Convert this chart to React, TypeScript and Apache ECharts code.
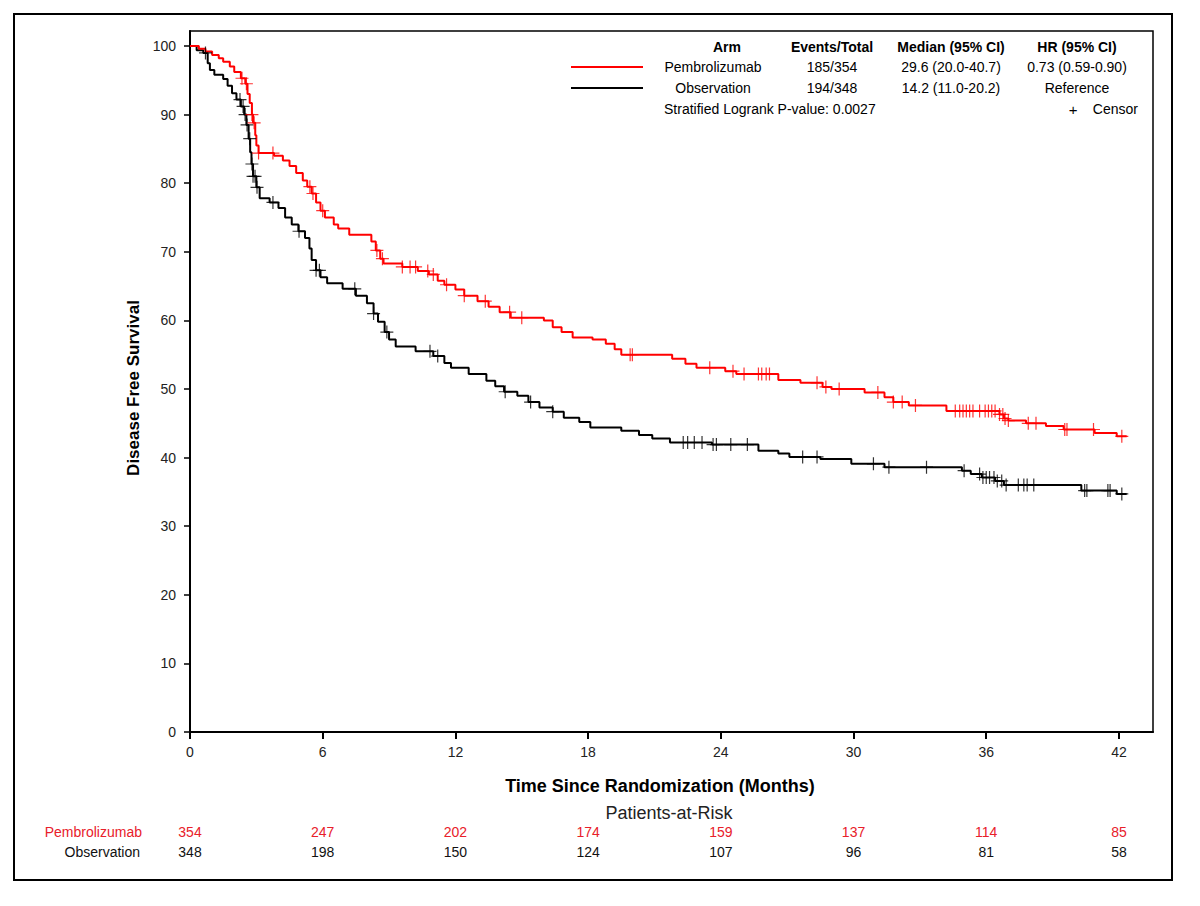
import React, { useEffect, useRef } from "react";
import * as echarts from "echarts";

// Kaplan-Meier steps: [month, disease free survival %]
const pembroCurve: number[][] = [
  [0, 100], [0.4, 99.6], [0.7, 99.2], [1.0, 98.7], [1.3, 98.2], [1.5, 97.7], [1.8, 97.0],
  [2.0, 96.2], [2.3, 95.3], [2.5, 94.5], [2.6, 93.0], [2.7, 91.7], [2.8, 90.0], [2.85, 88.8],
  [2.95, 87.0], [3.0, 85.5], [3.1, 84.4], [3.8, 84.0], [4.2, 83.3], [4.5, 82.5], [4.8, 81.5],
  [5.1, 80.4], [5.3, 79.5], [5.5, 78.5], [5.7, 77.2], [5.9, 76.0], [6.1, 75.0], [6.5, 74.0],
  [6.7, 73.4], [7.2, 72.5], [8.2, 71.5], [8.4, 70.2], [8.6, 69.0], [8.75, 68.3], [9.6, 67.8],
  [10.3, 67.2], [10.8, 66.7], [11.2, 65.8], [11.5, 65.2], [12.0, 64.5], [12.4, 63.6],
  [13.0, 62.8], [13.5, 62.0], [14.0, 61.2], [14.5, 60.4], [16.0, 60.0], [16.4, 59.0],
  [16.8, 58.3], [17.3, 57.5], [18.2, 57.2], [18.8, 56.6], [19.2, 55.8], [19.5, 55.0],
  [21.8, 54.4], [22.4, 53.7], [22.9, 53.1], [24.2, 52.6], [24.7, 52.2], [26.6, 51.3],
  [27.6, 50.9], [28.6, 50.3], [29.0, 50.0], [30.5, 49.5], [31.4, 48.8], [31.8, 48.1],
  [32.5, 47.6], [34.2, 46.8], [36.6, 46.3], [36.8, 45.7], [37.0, 45.4], [37.8, 45.0],
  [38.7, 44.6], [39.5, 44.1], [40.9, 43.6], [41.9, 43.1], [42.35, 43.1],
];

const obsCurve: number[][] = [
  [0, 100], [0.3, 99.4], [0.6, 99.0], [0.8, 97.5], [0.9, 96.5], [1.1, 95.8], [1.5, 95.2],
  [1.7, 94.2], [1.9, 93.1], [2.1, 92.2], [2.3, 91.2], [2.45, 90.0], [2.55, 88.5], [2.65, 86.5],
  [2.72, 84.5], [2.78, 82.8], [2.85, 81.0], [3.0, 79.4], [3.15, 77.8], [3.6, 77.2], [4.0, 76.4],
  [4.3, 75.0], [4.6, 74.0], [4.9, 73.0], [5.2, 72.0], [5.4, 70.5], [5.5, 68.8], [5.7, 67.3],
  [5.9, 66.3], [6.2, 65.4], [6.9, 64.6], [7.5, 63.6], [8.0, 62.5], [8.3, 61.0], [8.5, 59.8],
  [8.8, 58.3], [9.0, 57.2], [9.3, 56.2], [10.2, 55.5], [11.0, 54.8], [11.5, 53.8], [11.8, 53.1],
  [12.6, 52.2], [13.4, 51.2], [13.8, 50.4], [14.2, 49.6], [14.8, 49.0], [15.3, 48.1],
  [15.8, 47.3], [16.4, 46.7], [16.9, 45.8], [17.6, 45.2], [18.1, 44.4], [19.5, 43.9],
  [20.3, 43.3], [20.9, 42.8], [21.7, 42.2], [23.6, 41.9], [25.7, 41.0], [26.6, 40.6],
  [27.1, 40.1], [28.5, 39.8], [29.9, 39.1], [31.4, 38.6], [34.9, 38.1], [35.3, 37.6],
  [35.8, 37.1], [36.4, 36.6], [36.8, 36.0], [40.3, 35.2], [41.9, 34.7], [42.35, 34.7],
];

// Censoring times (months)
const pembroCensor: number[] = [
  2.35, 2.55, 2.8, 2.9, 3.1, 3.75, 5.42, 5.56, 6.0, 8.45, 8.7, 9.6, 9.95, 10.2, 10.75, 11.0,
  11.6, 12.4, 13.35, 14.45, 15.0, 19.9, 20.0, 23.5, 24.55, 25.05, 25.7, 25.85, 26.05, 26.2,
  28.35, 28.75, 29.35, 31.1, 31.8, 32.2, 32.8, 34.6, 34.8, 34.95, 35.1, 35.25, 35.4, 35.7,
  35.95, 36.1, 36.25, 36.4, 36.6, 36.75, 36.85, 37.0, 37.9, 38.25, 39.55, 39.65, 40.85, 42.13,
];

const obsCensor: number[] = [
  0.7, 2.26, 2.4, 2.49, 2.58, 2.7, 2.8, 2.85, 2.94, 3.03, 3.75, 4.93, 5.7, 5.85, 7.45, 8.3,
  8.9, 10.85, 11.2, 14.25, 15.4, 16.4, 22.3, 22.5, 22.8, 23.15, 23.65, 23.8, 24.45, 25.2,
  27.7, 28.35, 30.9, 31.6, 33.3, 35.0, 35.7, 35.85, 36.0, 36.15, 36.35, 36.5, 36.7, 36.9,
  37.45, 37.7, 37.85, 38.15, 40.45, 40.55, 41.5, 41.6, 42.13,
];

const monthTicks = [0, 6, 12, 18, 24, 30, 36, 42];
const survivalTicks = [0, 10, 20, 30, 40, 50, 60, 70, 80, 90, 100];
const pembroAtRisk = [354, 247, 202, 174, 159, 137, 114, 85];
const obsAtRisk = [348, 198, 150, 124, 107, 96, 81, 58];

const legendHeader = ["Arm", "Events/Total", "Median (95% CI)", "HR (95% CI)"];
const pembroRow = ["Pembrolizumab", "185/354", "29.6 (20.0-40.7)", "0.73 (0.59-0.90)"];
const obsRow = ["Observation", "194/348", "14.2 (11.0-20.2)", "Reference"];
const pValueText = "Stratified Logrank P-value: 0.0027";

const RED = "#ff0000";
const RED_TEXT = "#e8202a";
const FONT = "'Liberation Sans', Arial, sans-serif";

function stepAt(curve: number[][], t: number): number {
  let v = curve[0][1];
  for (const [x, y] of curve) {
    if (x <= t) v = y;
    else break;
  }
  return v;
}

const PLUS = "path://M5,0L5,10M0,5L10,5";

export default function App() {
  const ref = useRef<HTMLDivElement>(null);

  useEffect(() => {
    if (!ref.current) return;
    const chart = echarts.init(ref.current, undefined, { renderer: "svg" });

    const colX = [713, 832, 951, 1077];
    const rowY = [47, 67, 88];
    const text = (
      s: string,
      x: number,
      y: number,
      opts: { align?: string; size?: number; bold?: boolean; color?: string; rotation?: number } = {}
    ) => ({
      type: "text",
      x,
      y,
      rotation: opts.rotation ?? 0,
      silent: true,
      style: {
        text: s,
        fill: opts.color ?? "#000",
        font: `${opts.bold ? "bold " : ""}${opts.size ?? 14}px ${FONT}`,
        textAlign: opts.align ?? "center",
        textVerticalAlign: "middle",
      },
    });

    const graphics: any[] = [
      {
        type: "rect",
        silent: true,
        shape: { x: 14, y: 14, width: 1158, height: 866 },
        style: { fill: "none", stroke: "#000", lineWidth: 2 },
      },
      text(legendHeader[0], 727, rowY[0], { bold: true }),
      text(legendHeader[1], colX[1], rowY[0], { bold: true }),
      text(legendHeader[2], colX[2], rowY[0], { bold: true }),
      text(legendHeader[3], colX[3], rowY[0], { bold: true }),
      ...pembroRow.map((s, i) => text(s, colX[i], rowY[1])),
      ...obsRow.map((s, i) => text(s, colX[i], rowY[2])),
      text(pValueText, 664, 109, { align: "left" }),
      text("+", 1073, 109, { size: 15 }),
      text("Censor", 1138, 109, { align: "right" }),
      {
        type: "line",
        silent: true,
        shape: { x1: 571, y1: 67, x2: 643, y2: 67 },
        style: { stroke: RED, lineWidth: 2 },
      },
      {
        type: "line",
        silent: true,
        shape: { x1: 571, y1: 88, x2: 643, y2: 88 },
        style: { stroke: "#000", lineWidth: 2 },
      },
      text("Disease Free Survival", 133, 388, { bold: true, size: 17, rotation: Math.PI / 2 }),
      text("Time Since Randomization (Months)", 660, 786, { bold: true, size: 18 }),
      text("Patients-at-Risk", 669, 813, { size: 18, color: "#222" }),
      text("Pembrolizumab", 142, 832, { align: "right", color: RED_TEXT }),
      text("Observation", 140, 852, { align: "right", color: "#111" }),
    ];

    const atRiskAxis = (counts: number[], offset: number, color: string) => ({
      type: "value",
      gridIndex: 0,
      position: "bottom",
      offset,
      min: 0,
      max: 43.54,
      axisLine: { show: false },
      axisTick: { show: false },
      splitLine: { show: false },
      axisLabel: {
        customValues: monthTicks,
        margin: 0,
        color,
        fontSize: 14,
        fontFamily: FONT,
        formatter: (v: number) => {
          const i = monthTicks.indexOf(v);
          return i >= 0 ? String(counts[i]) : "";
        },
      },
    });

    chart.setOption({
      animation: false,
      backgroundColor: "#fff",
      grid: {
        left: 190,
        top: 31,
        width: 963,
        height: 701,
        show: true,
        borderColor: "#000",
        borderWidth: 1.5,
        containLabel: false,
      },
      xAxis: [
        {
          type: "value",
          min: 0,
          max: 43.54,
          axisLine: { show: true, onZero: false, lineStyle: { color: "#000", width: 2 } },
          axisTick: { show: true, customValues: monthTicks, length: 7, lineStyle: { color: "#000", width: 2 } },
          axisLabel: {
            customValues: monthTicks,
            margin: 13,
            fontSize: 14,
            color: "#222",
            fontFamily: FONT,
          },
          splitLine: { show: false },
        },
        atRiskAxis(pembroAtRisk, 93, RED_TEXT),
        atRiskAxis(obsAtRisk, 113, "#111"),
      ],
      yAxis: {
        type: "value",
        min: 0,
        max: 102.19,
        axisLine: { show: true, lineStyle: { color: "#000", width: 2 } },
        axisTick: { show: true, customValues: survivalTicks, length: 6, lineStyle: { color: "#000", width: 1.5 } },
        axisLabel: {
          customValues: survivalTicks,
          margin: 14,
          fontSize: 14,
          color: "#222",
          fontFamily: FONT,
        },
        splitLine: { show: false },
      },
      series: [
        {
          name: "Observation",
          type: "line",
          step: "end",
          symbol: "none",
          data: obsCurve,
          lineStyle: { color: "#000", width: 2 },
          z: 3,
        },
        {
          name: "Pembrolizumab",
          type: "line",
          step: "end",
          symbol: "none",
          data: pembroCurve,
          lineStyle: { color: RED, width: 2 },
          z: 4,
        },
        {
          name: "Observation censor",
          type: "scatter",
          symbol: PLUS,
          symbolSize: 13,
          data: obsCensor.map((t) => [t, stepAt(obsCurve, t)]),
          itemStyle: { color: "transparent", borderColor: "#000", borderWidth: 1.2, opacity: 0.8 },
          z: 5,
        },
        {
          name: "Pembrolizumab censor",
          type: "scatter",
          symbol: PLUS,
          symbolSize: 13,
          data: pembroCensor.map((t) => [t, stepAt(pembroCurve, t)]),
          itemStyle: { color: "transparent", borderColor: RED, borderWidth: 1.2, opacity: 0.8 },
          z: 6,
        },
      ],
      graphic: graphics,
    });

    return () => chart.dispose();
  }, []);

  return (
    <div
      ref={ref}
      style={{ position: "fixed", left: 0, top: 0, width: 1200, height: 906, background: "#fff" }}
    />
  );
}
